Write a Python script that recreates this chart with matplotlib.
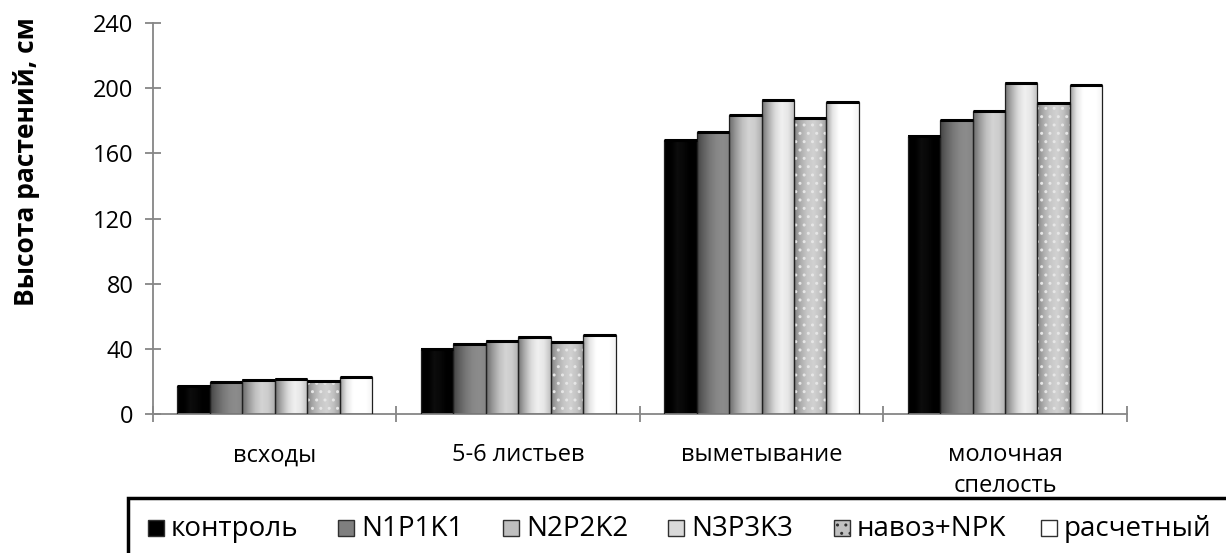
import numpy as np
import matplotlib
matplotlib.use('Agg')
import matplotlib.pyplot as plt
from matplotlib.patches import Rectangle

plt.rcParams['font.family'] = ['Open Sans', 'DejaVu Sans']

# фазы развития и варианты опыта
phases = ['всходы', '5-6 листьев', 'выметывание', 'молочная\nспелость']
variants = ['контроль', 'N1P1K1', 'N2P2K2', 'N3P3K3', 'навоз+NPK', 'расчетный']

# высота растений, см
kontrol = [17, 40, 168, 171]
n1p1k1 = [19.5, 43, 173, 180.5]
n2p2k2 = [21, 45, 183.5, 186]
n3p3k3 = [21.5, 47.5, 193, 203.5]
navoz = [20, 44, 181.5, 191]
raschet = [22.5, 48.5, 191.5, 202]

values = [kontrol, n1p1k1, n2p2k2, n3p3k3, navoz, raschet]

# цвет в легенде и профиль заливки по ширине столбика (0 - черный, 1 - белый)
legend_colors = ['#000000', '#7f7f7f', '#bfbfbf', '#d9d9d9', '#c0c0c0', '#ffffff']
shade = [
    [0.0, 0.0, 0.05, 0.03, 0.0, 0.0],
    [0.27, 0.38, 0.47, 0.53, 0.55, 0.52],
    [0.42, 0.6, 0.75, 0.83, 0.8, 0.68],
    [0.45, 0.68, 0.86, 0.94, 0.9, 0.75],
    [0.52, 0.68, 0.78, 0.82, 0.76, 0.62],
    [0.62, 0.9, 1.0, 1.0, 1.0, 0.95],
]

fig = plt.figure(figsize=(12.26, 5.53), dpi=100)
ax = fig.add_axes([0.1248, 0.2514, 0.7942, 0.7066])

x = np.arange(len(phases))
n = len(variants)
w = 0.8 / n

for i, vals in enumerate(values):
    pos = x - 0.4 + w * (i + 0.5)
    bars = ax.bar(pos, vals, width=w, color='none', edgecolor='none', zorder=2)
    prof = np.interp(np.linspace(0, 1, 60), np.linspace(0, 1, len(shade[i])), shade[i])
    for b in bars:
        x0, h = b.get_x(), b.get_height()
        ax.imshow(prof[np.newaxis, :], cmap='gray', vmin=0, vmax=1, aspect='auto',
                  extent=[x0, x0 + w, 0, h], interpolation='bilinear', zorder=2)
        if variants[i] == 'навоз+NPK':
            ax.add_patch(Rectangle((x0, 0), w, h, facecolor='none', edgecolor='#e6e6e6',
                                   linewidth=0, hatch='..', zorder=3))
        ax.add_patch(Rectangle((x0, 0), w, h, facecolor='none', edgecolor='#202020',
                               linewidth=0.9, zorder=4))
        ax.plot([x0, x0 + w], [h, h], color='black', linewidth=2.2,
                solid_capstyle='butt', zorder=5)

ax.set_xlim(-0.5, len(phases) - 0.5)
ax.set_ylim(0, 240)
ax.set_yticks(range(0, 241, 40))
ax.set_xticks(np.arange(len(phases) + 1) - 0.5)
ax.set_xticklabels([])
ax.set_xticks(x, minor=True)
ax.set_xticklabels(phases, minor=True, fontsize=17, linespacing=1.4, va='top')
ax.tick_params(axis='x', which='minor', length=0, pad=21)
ax.tick_params(axis='x', which='major', direction='inout', length=12, color='#868686', width=1.3)
ax.tick_params(axis='y', direction='inout', length=12, color='#868686', width=1.3,
               labelsize=17, pad=8)

for side in ['top', 'right']:
    ax.spines[side].set_visible(False)
for side in ['left', 'bottom']:
    ax.spines[side].set_color('#868686')
    ax.spines[side].set_linewidth(1.3)

fig.text(27 / 1226, 1 - 162 / 553, 'Высота растений, см', rotation=90,
         ha='center', va='center', fontsize=19, fontweight='bold')

# рамка легенды уходит за край рисунка
fig.patches.append(Rectangle((128 / 1226, -0.05), 1.0, 0.05 + 1 - 498 / 553,
                             transform=fig.transFigure, facecolor='white',
                             edgecolor='black', linewidth=2.5, zorder=1))

leg_x = [148, 338, 503, 668, 834, 1041]
for lx, name, col in zip(leg_x, variants, legend_colors):
    fig.patches.append(Rectangle((lx / 1226, 1 - 536 / 553), 16 / 1226, 16 / 553,
                                 transform=fig.transFigure, facecolor=col,
                                 edgecolor='#303030', linewidth=1, zorder=2,
                                 hatch='..' if name == 'навоз+NPK' else None))
    fig.text((lx + 23) / 1226, 1 - 529 / 553, name, ha='left', va='center',
             fontsize=20, zorder=3)

fig.savefig('out.png', dpi=100)
